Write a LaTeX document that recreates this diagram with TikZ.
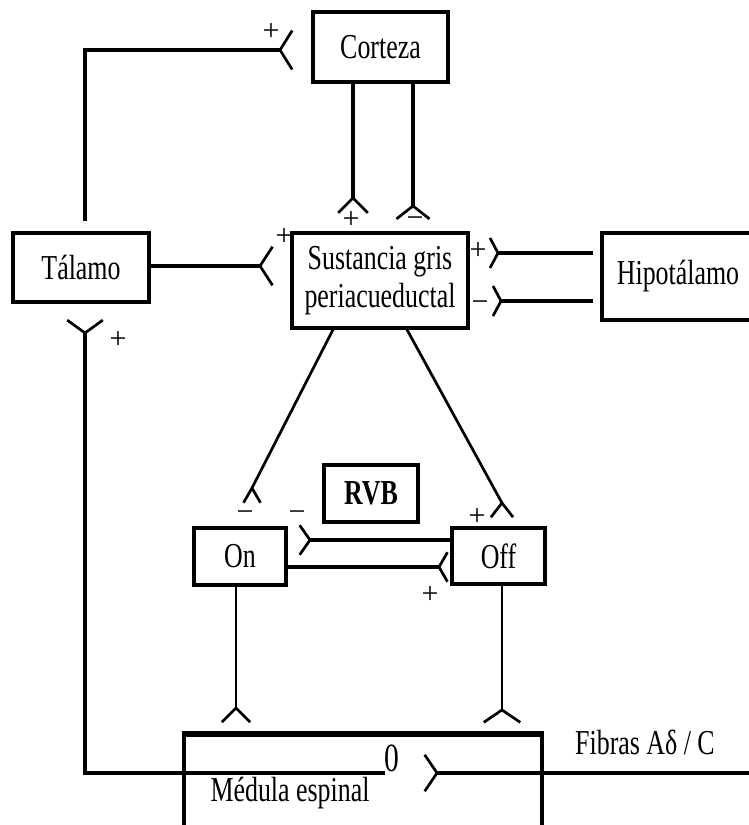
\documentclass[tikz,border=0pt]{standalone}
\usepackage{fontspec}
\setmainfont{Liberation Serif}[FakeStretch=0.74]
\newfontfamily\signfont{Liberation Serif}
\begin{document}
\begin{tikzpicture}[x=1pt,y=1pt,
  box/.style={draw, line width=3.3pt, inner sep=0pt, align=center,
    font=\fontsize{35}{38}\selectfont},
  lbl/.style={inner sep=0pt, font=\fontsize{35}{38}\selectfont},
  conn/.style={line width=3.3pt},
  thin conn/.style={line width=2.7pt},
  sign/.style={inner sep=0pt, font=\signfont\fontsize{30}{30}\selectfont},
  % synaptic ending: two short arms opening towards the target
  pics/syn/.style args={#1/#2}{code={
    \draw[line width=2.7pt] (#1:#2) -- (0,0) -- (-#1:#2);}}
]
\useasboundingbox (0,0) rectangle (749,-825);

% ---- structures ----
\node[box, minimum width=135pt, minimum height=70pt] (Corteza) at (380.5,-47) {Corteza};
\node[box, minimum width=136pt, minimum height=69pt] (Talamo) at (81,-267.5) {Tálamo};
\node[box, minimum width=176pt, minimum height=95pt] (SGP) at (380,-280.5)
  {Sustancia gris\\periacueductal};
\node[box, minimum width=152pt, minimum height=87pt] (Hipot) at (678,-276.5) {Hipotálamo};
\node[box, line width=4pt, minimum width=94pt, minimum height=57pt,
  font=\fontsize{35}{38}\selectfont\bfseries] (RVB) at (371,-493.5) {RVB};
\node[box, minimum width=92pt, minimum height=57pt] (On) at (240,-556.5) {On};
\node[box, minimum width=93pt, minimum height=56pt] (Off) at (498.5,-556) {Off};

% spinal cord: open box at the bottom edge
\draw[line width=3.3pt] (184,-830) -- (184,-733) (542,-733) -- (542,-830);
\draw[line width=6pt] (182.3,-734) -- (543.7,-734);
\node[lbl] (Medula) at (290,-793) {Médula espinal};
\node[lbl] (Fibras) at (645,-742) {Fibras Aδ / C};

% ---- Tálamo -> Corteza ----
\coordinate (vTC) at (280,-50);
\draw[conn] ([xshift=4pt,yshift=10pt]Talamo.north) |- (vTC);
\pic at (vTC) {syn=58/23};
\node[sign] at (271,-32) {+};

% ---- Corteza -> SGP ----
\coordinate (vCS1) at (353,-198);
\draw[conn, line width=4.4pt] (Corteza.south -| vCS1) -- (vCS1);
\pic[rotate=-90] at (vCS1) {syn=45/21};
\node[sign] at (351,-220) {+};
\coordinate (vCS2) at (413,-206);
\draw[conn] (Corteza.south -| vCS2) -- (vCS2);
\pic[rotate=-90] at (vCS2) {syn=52/21};
\node[sign] at (415,-222) {−};

% ---- Tálamo -> SGP ----
\coordinate (vTS) at (260,-266);
\draw[conn] (Talamo.east |- vTS) -- (vTS);
\pic at (vTS) {syn=57/23};
\node[sign] at (284,-237) {+};

% ---- Hipotálamo -> SGP ----
\coordinate (vHS1) at (498,-253);
\draw[conn] ([xshift=-7pt]Hipot.west |- vHS1) -- (vHS1);
\pic[rotate=180] at (vHS1) {syn=62/17};
\node[sign] at (478,-251) {+};
\coordinate (vHS2) at (501,-301);
\draw[conn] ([xshift=-7pt]Hipot.west |- vHS2) -- (vHS2);
\pic[rotate=180] at (vHS2) {syn=62/17};
\node[sign] at (480,-306) {−};

% ---- SGP -> On / Off ----
\coordinate (vSOn) at (252,-488);
\draw[thin conn] ([xshift=-47pt]SGP.south) -- (vSOn);
\pic[rotate=-90] at (vSOn) {syn=30/17};
\node[sign] at (245,-516) {−};
\coordinate (vSOff) at (502,-503);
\draw[thin conn] ([xshift=27pt]SGP.south) -- (vSOff);
\pic[rotate=-90] at (vSOff) {syn=38/18};
\node[sign] at (477,-517) {+};

% ---- On <-> Off ----
\coordinate (vOffOn) at (310,-540);
\draw[conn] (Off.west |- vOffOn) -- (vOffOn);
\pic[rotate=180] at (vOffOn) {syn=55/18};
\node[sign] at (297,-516) {−};
\coordinate (vOnOff) at (439,-567);
\draw[conn] (On.east |- vOnOff) -- (vOnOff);
\pic at (vOnOff) {syn=60/17};
\node[sign] at (430,-595) {+};

% ---- On / Off -> médula ----
\coordinate (vOnM) at (236,-708);
\draw[thin conn] (On.south -| vOnM) -- (vOnM);
\pic[rotate=-90] at (vOnM) {syn=45/20};
\coordinate (vOffM) at (502,-710);
\draw[thin conn] (Off.south -| vOffM) -- (vOffM);
\pic[rotate=-90] at (vOffM) {syn=56/22};

% ---- médula -> Tálamo ----
\coordinate (mOut) at (385,-773);
\coordinate (vMT) at (85,-333);
\draw[conn] (mOut) -| (vMT);
\pic[rotate=90] at (vMT) {syn=54/22};
\node[sign] at (118,-340) {+};
\node[inner sep=0pt, font=\fontsize{40}{40}\selectfont] at (392,-758) {0};

% ---- afferent fibres -> médula ----
\coordinate (fIn) at (752,-773);
\coordinate (vFib) at (437,-773);
\draw[conn] (fIn) -- (vFib);
\pic[rotate=180] at (vFib) {syn=56/22};
\end{tikzpicture}
\end{document}
